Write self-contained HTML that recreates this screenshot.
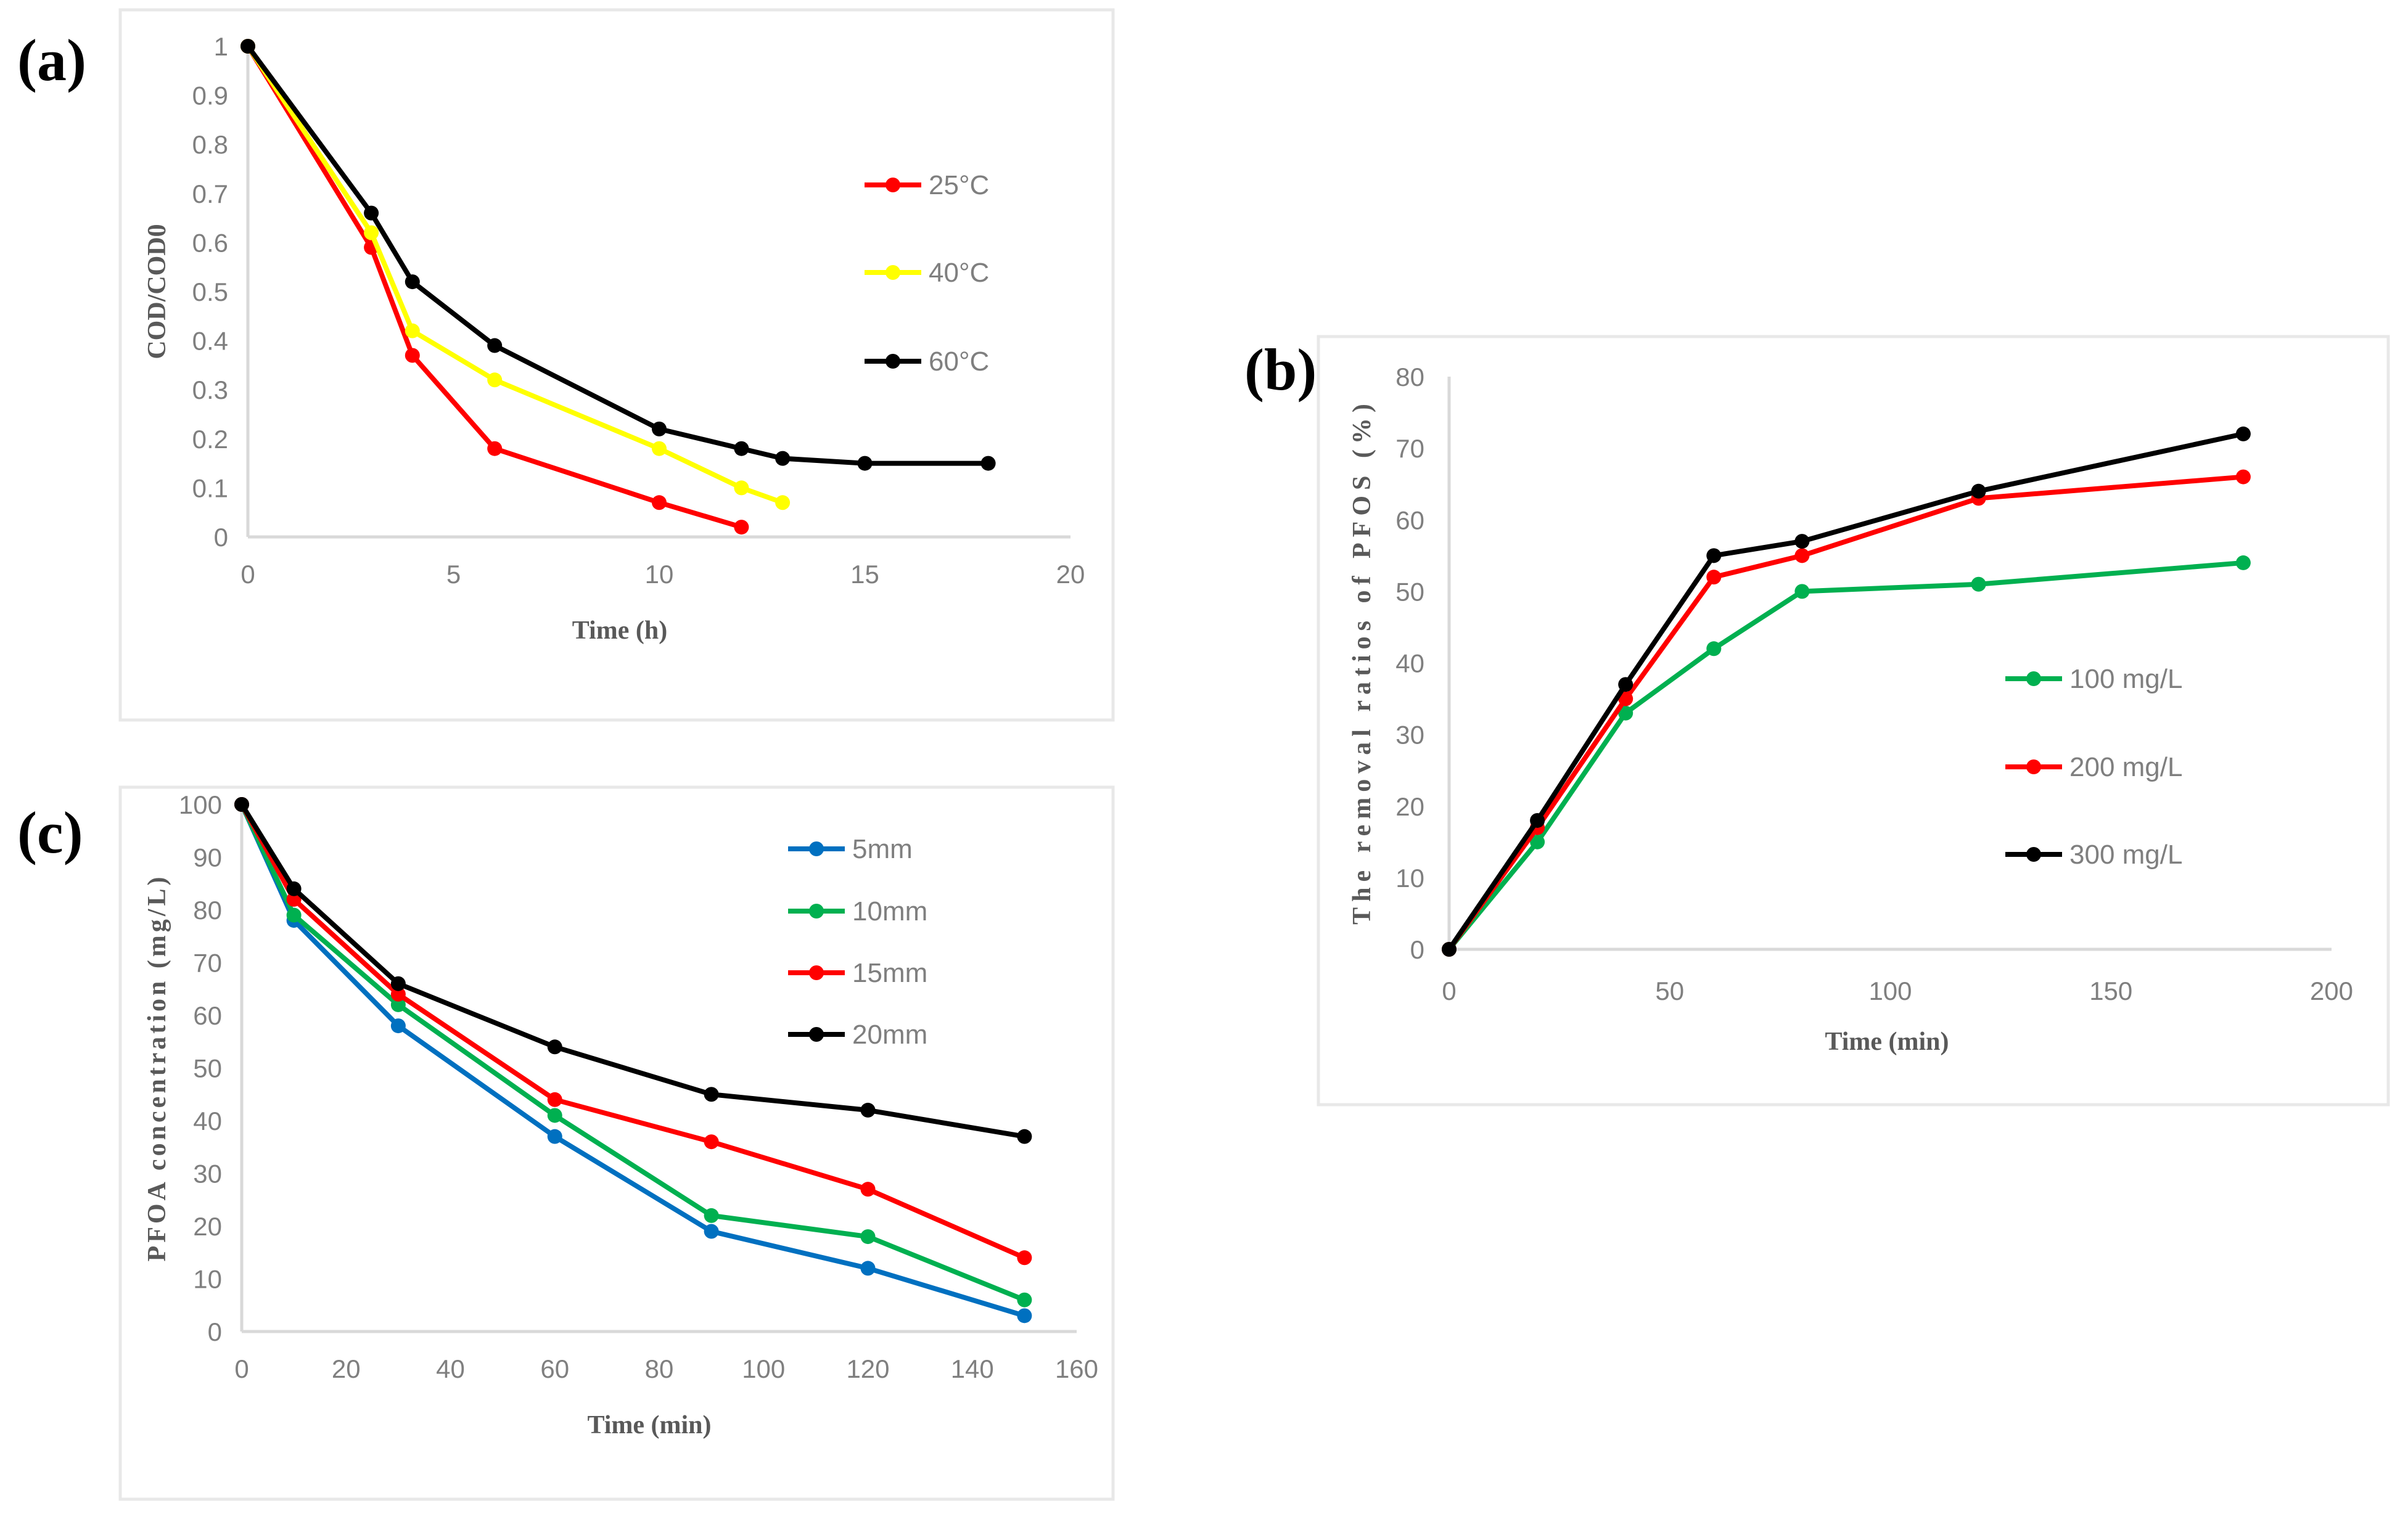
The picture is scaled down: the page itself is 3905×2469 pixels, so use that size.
<!DOCTYPE html>
<html><head><meta charset="utf-8">
<style>
html,body{margin:0;padding:0;background:#fff;}
svg{display:block;}
.tick{font-family:"Liberation Sans Narrow","Liberation Sans",sans-serif;font-size:42px;fill:#7f7f7f;}
.leg{font-family:"Liberation Sans Narrow","Liberation Sans",sans-serif;font-size:44px;fill:#7f7f7f;}
.title{font-family:"Liberation Serif",serif;font-weight:bold;font-size:42px;fill:#595959;}
.plabel{font-family:"Liberation Serif",serif;font-weight:bold;font-size:96px;fill:#000;}
</style></head>
<body>
<svg id="fig" width="3905" height="2469" viewBox="0 0 3905 2469" xmlns="http://www.w3.org/2000/svg">
<rect x="0" y="0" width="3905" height="2469" fill="#fff"/>
<rect x="195" y="16" width="1610" height="1152" fill="none" stroke="#e8e8e8" stroke-width="5"/>
<rect x="2138" y="546" width="1735" height="1246" fill="none" stroke="#e8e8e8" stroke-width="5"/>
<rect x="195" y="1277" width="1610" height="1155" fill="none" stroke="#e8e8e8" stroke-width="5"/>
<text class="plabel" x="28" y="130">(a)</text>
<text class="plabel" x="2018" y="632">(b)</text>
<text class="plabel" x="28" y="1383">(c)</text>
<g id="ga"></g><g id="gb"></g><g id="gc"></g>
</svg>
<script>
// Panel (a)
const aTimes25 = [0,3,4,6,10,12];
const aVals25 = [1,0.59,0.37,0.18,0.07,0.02];
const aTimes40 = [0,3,4,6,10,12,13];
const aVals40 = [1,0.62,0.42,0.32,0.18,0.10,0.07];
const aTimes60 = [0,3,4,6,10,12,13,15,18];
const aVals60 = [1,0.66,0.52,0.39,0.22,0.18,0.16,0.15,0.15];
const aXTicks = [0,5,10,15,20];
const aYTicks = [0,0.1,0.2,0.3,0.4,0.5,0.6,0.7,0.8,0.9,1];
const aYTickLabels = ["0","0.1","0.2","0.3","0.4","0.5","0.6","0.7","0.8","0.9","1"];
const aLegend = ["25°C","40°C","60°C"];
// Panel (b)
const bTimes = [0,20,40,60,80,120,180];
const b100 = [0,15,33,42,50,51,54];
const b200 = [0,17,35,52,55,63,66];
const b300 = [0,18,37,55,57,64,72];
const bXTicks = [0,50,100,150,200];
const bYTicks = [0,10,20,30,40,50,60,70,80];
const bLegend = ["100 mg/L","200 mg/L","300 mg/L"];
// Panel (c)
const cTimes = [0,10,30,60,90,120,150];
const c5 = [100,78,58,37,19,12,3];
const c10 = [100,79,62,41,22,18,6];
const c15 = [100,82,64,44,36,27,14];
const c20 = [100,84,66,54,45,42,37];
const cXTicks = [0,20,40,60,80,100,120,140,160];
const cYTicks = [0,10,20,30,40,50,60,70,80,90,100];
const cLegend = ["5mm","10mm","15mm","20mm"];

const NS = "http://www.w3.org/2000/svg";
function mk(parent, tag, attrs){const e=document.createElementNS(NS,tag);for(const k in attrs)e.setAttribute(k,attrs[k]);parent.appendChild(e);return e;}

function panel(g, cfg){
  const sx = v => cfg.x0 + (v-cfg.xmin)/(cfg.xmax-cfg.xmin)*(cfg.x1-cfg.x0);
  const sy = v => cfg.y0 - (v-cfg.ymin)/(cfg.ymax-cfg.ymin)*(cfg.y0-cfg.y1);
  const ya = mk(g,'line',{x1:cfg.x0,y1:cfg.y0,x2:cfg.x0,y2:cfg.y1,stroke:'#d9d9d9','stroke-width':5});
  
  
  const xa = mk(g,'line',{x1:cfg.x0,y1:cfg.y0,x2:cfg.x1,y2:cfg.y0,stroke:'#d9d9d9','stroke-width':5});
  
  
  cfg.xticks.forEach(t=>{
    const e=mk(g,'text',{x:sx(t),y:cfg.xlabY,'text-anchor':'middle',class:'tick'});e.textContent=String(t);
    
    
  });
  cfg.yticks.forEach((t,i)=>{
    const e=mk(g,'text',{x:cfg.ylabX,y:sy(t)+15,'text-anchor':'end',class:'tick'});e.textContent=cfg.ylabels?cfg.ylabels[i]:String(t);
    
    
  });
  const xt=mk(g,'text',{x:cfg.xtX,y:cfg.xtY,'text-anchor':'middle',class:'title'});xt.textContent=cfg.xtitle;
  
  
  const yt=mk(g,'text',{x:0,y:0,'text-anchor':'middle',class:'title',transform:`translate(${cfg.ytX},${cfg.ytY}) rotate(-90)`});yt.textContent=cfg.ytitle;
  if(cfg.ytSpacing) yt.setAttribute('letter-spacing',cfg.ytSpacing);
  
  
  cfg.series.forEach((s,si)=>{
    const pts=s.x.map((xv,i)=>sx(xv)+','+sy(s.y[i])).join(' ');
    const pl=mk(g,'polyline',{points:pts,fill:'none',stroke:s.color,'stroke-width':8,'stroke-linejoin':'round'});
    
    
    s.x.forEach((xv,i)=>{
      const c=mk(g,'circle',{cx:sx(xv),cy:sy(s.y[i]),r:12,fill:s.color});
      
      
    });
    const ly=cfg.legY[si];
    const ll=mk(g,'line',{x1:cfg.legX,y1:ly,x2:cfg.legX+92,y2:ly,stroke:s.color,'stroke-width':8});
    
    
    const lc=mk(g,'circle',{cx:cfg.legX+46,cy:ly,r:12,fill:s.color});
    
    
    const lt=mk(g,'text',{x:cfg.legX+104,y:ly+15,class:'leg'});lt.textContent=s.label;
    
    
  });
}

panel(document.getElementById('ga'),{id:'panel-a',x0:402,x1:1736,xmin:0,xmax:20,y0:871,y1:75,ymin:0,ymax:1,
  xticks:aXTicks,yticks:aYTicks,ylabels:aYTickLabels,xlabY:946,ylabX:370,
  xtitle:'Time (h)',xtX:1005,xtY:1036,ytitle:'COD/COD0',ytX:268,ytY:473,
  legX:1402,legY:[300,442,586],
  series:[{key:'25c',label:aLegend[0],color:'#ff0000',x:aTimes25,y:aVals25},
          {key:'40c',label:aLegend[1],color:'#ffff00',x:aTimes40,y:aVals40},
          {key:'60c',label:aLegend[2],color:'#000000',x:aTimes60,y:aVals60}]});

panel(document.getElementById('gb'),{id:'panel-b',x0:2350,x1:3781,xmin:0,xmax:200,y0:1540,y1:611,ymin:0,ymax:80,
  xticks:bXTicks,yticks:bYTicks,xlabY:1622,ylabX:2310,
  xtitle:'Time (min)',xtX:3060,xtY:1703,ytitle:'The removal ratios of PFOS (%)',ytX:2222,ytY:1073,ytSpacing:'9',
  legX:3252,legY:[1101,1244,1386],
  series:[{key:'100',label:bLegend[0],color:'#00b050',x:bTimes,y:b100},
          {key:'200',label:bLegend[1],color:'#ff0000',x:bTimes,y:b200},
          {key:'300',label:bLegend[2],color:'#000000',x:bTimes,y:b300}]});

panel(document.getElementById('gc'),{id:'panel-c',x0:392,x1:1746,xmin:0,xmax:160,y0:2160,y1:1305,ymin:0,ymax:100,
  xticks:cXTicks,yticks:cYTicks,xlabY:2235,ylabX:360,
  xtitle:'Time (min)',xtX:1053,xtY:2325,ytitle:'PFOA concentration (mg/L)',ytX:268,ytY:1732,ytSpacing:'5',
  legX:1278,legY:[1377,1478,1578,1678],
  series:[{key:'5mm',label:cLegend[0],color:'#0070c0',x:cTimes,y:c5},
          {key:'10mm',label:cLegend[1],color:'#00b050',x:cTimes,y:c10},
          {key:'15mm',label:cLegend[2],color:'#ff0000',x:cTimes,y:c15},
          {key:'20mm',label:cLegend[3],color:'#000000',x:cTimes,y:c20}]});
</script>
</body></html>
